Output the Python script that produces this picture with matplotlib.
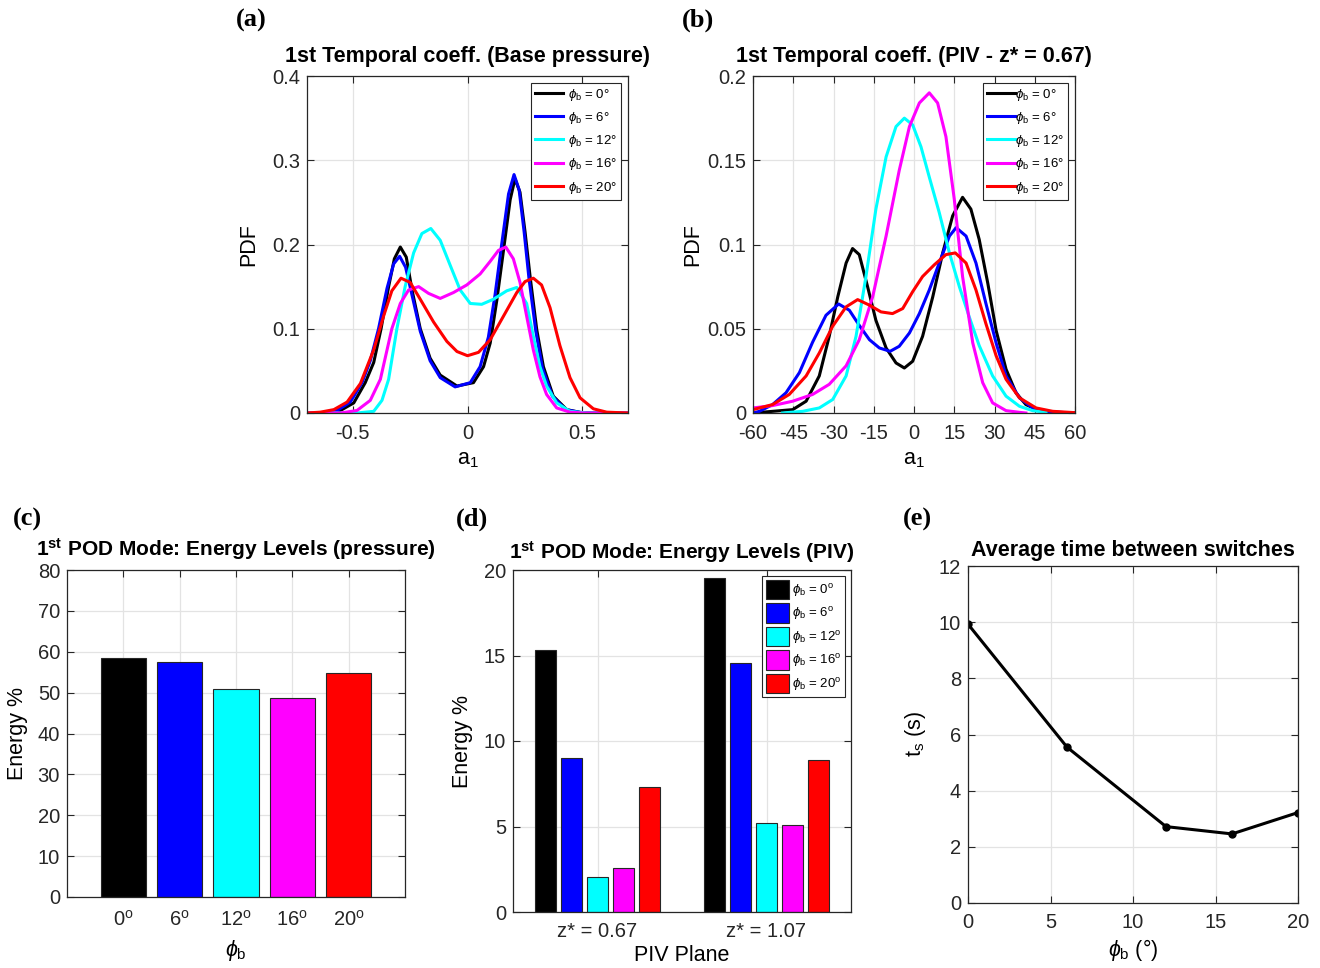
import matplotlib
matplotlib.use("Agg")
import matplotlib.pyplot as plt
import numpy as np

plt.rcParams['font.family'] = ['Liberation Sans', 'DejaVu Sans']
plt.rcParams['mathtext.fontset'] = 'custom'
plt.rcParams['mathtext.rm'] = 'Liberation Sans'
plt.rcParams['mathtext.it'] = 'Liberation Sans:italic'
plt.rcParams['mathtext.bf'] = 'Liberation Sans:bold'
plt.rcParams['axes.unicode_minus'] = False

# ---------------- data ----------------
angles = [0, 6, 12, 16, 20]
colors = ['#000000', '#0000ff', '#00ffff', '#ff00ff', '#ff0000']

# (a) PDF of base-pressure temporal coefficient
a_x0 = [-0.7, -0.612, -0.554, -0.496, -0.446, -0.409, -0.377, -0.344, -0.319, -0.293, -0.267, -0.242,
        -0.206, -0.163, -0.119, -0.046, 0.026, 0.07, 0.099, 0.128, 0.157, 0.186, 0.207, 0.229, 0.251,
        0.273, 0.302, 0.331, 0.374, 0.433, 0.505, 0.7]
a_y0 = [0, 0, 0.003, 0.012, 0.036, 0.06, 0.10, 0.15, 0.183, 0.197, 0.185, 0.146,
        0.10, 0.065, 0.045, 0.032, 0.036, 0.055, 0.083, 0.134, 0.193, 0.253, 0.278, 0.262, 0.215,
        0.162, 0.099, 0.055, 0.02, 0.004, 0, 0]
a_x6 = [-0.7, -0.642, -0.569, -0.511, -0.46, -0.424, -0.388, -0.351, -0.322, -0.296, -0.27, -0.242,
        -0.206, -0.163, -0.119, -0.054, 0.012, 0.055, 0.091, 0.12, 0.149, 0.179, 0.203, 0.225, 0.247,
        0.268, 0.298, 0.327, 0.37, 0.428, 0.505, 0.7]
a_y6 = [0, 0, 0.003, 0.013, 0.036, 0.062, 0.10, 0.148, 0.177, 0.186, 0.173, 0.14,
        0.097, 0.062, 0.042, 0.031, 0.036, 0.055, 0.09, 0.14, 0.2, 0.26, 0.283, 0.265, 0.215,
        0.16, 0.097, 0.053, 0.02, 0.004, 0, 0]
a_x12 = [-0.7, -0.482, -0.409, -0.373, -0.344, -0.308, -0.272, -0.235, -0.199, -0.16, -0.119, -0.075,
         -0.032, 0.012, 0.062, 0.113, 0.171, 0.215, 0.258, 0.287, 0.316, 0.345, 0.389, 0.447, 0.52, 0.7]
a_y12 = [0, 0, 0.002, 0.015, 0.04, 0.10, 0.15, 0.19, 0.213, 0.219, 0.205, 0.175,
         0.146, 0.13, 0.129, 0.135, 0.145, 0.149, 0.13, 0.091, 0.055, 0.032, 0.012, 0.002, 0, 0]
a_x16 = [-0.7, -0.554, -0.482, -0.424, -0.38, -0.33, -0.293, -0.257, -0.213, -0.17, -0.119, -0.061,
         -0.003, 0.055, 0.099, 0.135, 0.167, 0.2, 0.229, 0.258, 0.287, 0.316, 0.345, 0.389, 0.447, 0.505, 0.7]
a_y16 = [0, 0, 0.003, 0.015, 0.04, 0.10, 0.13, 0.146, 0.15, 0.142, 0.136, 0.143,
         0.152, 0.165, 0.18, 0.193, 0.197, 0.183, 0.155, 0.115, 0.075, 0.043, 0.022, 0.006, 0.001, 0, 0]
a_x20 = [-0.7, -0.642, -0.583, -0.525, -0.467, -0.409, -0.366, -0.33, -0.29, -0.25, -0.206, -0.148,
         -0.09, -0.046, 0.0, 0.048, 0.099, 0.157, 0.215, 0.251, 0.287, 0.323, 0.36, 0.403, 0.447, 0.491,
         0.549, 0.607, 0.7]
a_y20 = [0, 0.001, 0.004, 0.013, 0.035, 0.075, 0.115, 0.145, 0.16, 0.155, 0.135, 0.108,
         0.085, 0.073, 0.068, 0.072, 0.087, 0.115, 0.143, 0.156, 0.16, 0.152, 0.125, 0.08, 0.042, 0.018,
         0.005, 0.001, 0]

# (b) PDF of PIV temporal coefficient (z* = 0.67)
b_x0 = [-60, -45.2, -40.2, -35.3, -31.6, -28.4, -25.3, -22.9, -20.4, -17.3, -14.2, -10.4, -6.7, -3.6,
        -0.5, 3.2, 7.0, 10.7, 14.4, 18.1, 21.2, 24.3, 27.5, 30.6, 34.3, 38.0, 41.7, 46.7, 51.7, 60]
b_y0 = [0, 0.002, 0.007, 0.022, 0.0455, 0.069, 0.089, 0.0976, 0.094, 0.075, 0.055, 0.0386, 0.0297, 0.0267,
        0.0307, 0.0455, 0.069, 0.095, 0.117, 0.128, 0.121, 0.103, 0.077, 0.049, 0.026, 0.012, 0.005,
        0.0014, 0.0002, 0]
b_x6 = [-60, -57.6, -52.7, -47.7, -42.7, -37.8, -32.8, -28.1, -24.1, -20.4, -16.6, -12.9, -8.9, -5.5,
        -1.7, 2.0, 5.7, 9.4, 13.2, 15.7, 19.4, 23.1, 26.8, 30.6, 34.3, 39.3, 44.2, 49.2, 56.6, 60]
b_y6 = [0, 0.001, 0.005, 0.012, 0.024, 0.042, 0.058, 0.0647, 0.061, 0.052, 0.0435, 0.0386, 0.0366, 0.0396,
        0.0475, 0.059, 0.073, 0.089, 0.105, 0.110, 0.105, 0.089, 0.065, 0.0416, 0.022, 0.009, 0.003,
        0.001, 0.0002, 0]
b_x12 = [-49, -41.5, -35.3, -30.3, -25.3, -21.6, -17.9, -14.2, -10.4, -6.7, -3.6, -0.5, 2.6, 5.7, 9.4,
         13.2, 16.9, 20.6, 24.3, 29.3, 34.3, 39.3, 44.2, 49.2]
b_y12 = [0, 0.001, 0.003, 0.008, 0.022, 0.0455, 0.081, 0.121, 0.152, 0.17, 0.175, 0.171, 0.158, 0.14,
         0.119, 0.095, 0.075, 0.057, 0.04, 0.022, 0.01, 0.004, 0.0014, 0.0004]
b_x16 = [-60, -52.7, -45.2, -37.8, -31.6, -25.3, -20.4, -15.4, -10.4, -5.5, -1.7, 2.0, 5.7, 8.8, 11.9,
         15.0, 18.1, 21.9, 25.6, 29.3, 34.3, 39.3, 41.7]
b_y16 = [0.003, 0.0044, 0.007, 0.011, 0.017, 0.028, 0.0435, 0.069, 0.105, 0.144, 0.17, 0.184, 0.19,
         0.184, 0.164, 0.127, 0.081, 0.0416, 0.018, 0.006, 0.0014, 0.0004, 0]
b_x20 = [-60, -52.7, -46.5, -40.2, -35.3, -30.3, -25.3, -21.0, -16.6, -12.3, -8.0, -4.2, -0.5, 3.2,
         7.6, 11.9, 15.4, 19.4, 23.1, 26.8, 30.6, 34.3, 39.3, 45.5, 51.7, 60]
b_y20 = [0.002, 0.005, 0.011, 0.022, 0.0356, 0.0515, 0.063, 0.0673, 0.064, 0.06, 0.059, 0.062, 0.072,
         0.081, 0.088, 0.094, 0.095, 0.089, 0.073, 0.053, 0.034, 0.02, 0.009, 0.003, 0.001, 0.0002]

# (c) energy of 1st POD mode (pressure)
c_labels = ['0$^\\mathrm{o}$', '6$^\\mathrm{o}$', '12$^\\mathrm{o}$', '16$^\\mathrm{o}$', '20$^\\mathrm{o}$']
c_energy = [58.4, 57.4, 51.0, 48.6, 54.7]

# (d) energy of 1st POD mode (PIV)
d_planes = ['z* = 0.67', 'z* = 1.07']
d_energy = {0: [15.3, 19.55], 6: [9.0, 14.55], 12: [2.05, 5.18], 16: [2.6, 5.06], 20: [7.3, 8.87]}

# (e) average time between switches
e_phi = [0, 6, 12, 16, 20]
e_ts = [9.93, 5.55, 2.72, 2.46, 3.22]

# ---------------- style helpers ----------------
W, H = 1320, 968
fig = plt.figure(figsize=(W / 100, H / 100), dpi=100)

def px_axes(l, t, r, b):
    return fig.add_axes([l / W, 1 - b / H, (r - l) / W, (b - t) / H])

SPINE = '#262626'
GRID = '#e3e3e3'
FS = 14.5
TFS = 15.5
LFS = 15.5

def style(ax, xpad=8):
    for s in ax.spines.values():
        s.set_color(SPINE)
        s.set_linewidth(0.9)
    ax.tick_params(direction='in', top=True, right=True, length=5, width=0.8,
                   colors=SPINE, labelcolor='#262626', labelsize=FS)
    ax.tick_params(axis='x', pad=xpad)
    ax.tick_params(axis='y', pad=5)
    ax.grid(True, color=GRID, linewidth=0.9)
    ax.set_axisbelow(True)

def panel_label(x, y, s):
    fig.text(x / W, 1 - y / H, s, family='Liberation Serif', weight='bold', fontsize=19,
             ha='left', va='center')

leg_labels = [r'$\phi_\mathrm{b}$ = %d°' % a for a in angles]

# ---------------- (a) ----------------
ax = px_axes(307, 76, 628, 413)
style(ax)
for xs, ys, c, lab in zip([a_x0, a_x6, a_x12, a_x16, a_x20], [a_y0, a_y6, a_y12, a_y16, a_y20], colors, leg_labels):
    ax.plot(xs, ys, color=c, lw=2.2, label=lab, solid_joinstyle='round')
ax.set_xlim(-0.7, 0.7)
ax.set_ylim(0, 0.4)
ax.set_xticks([-0.5, 0, 0.5])
ax.set_xticklabels(['-0.5', '0', '0.5'])
ax.set_yticks([0, 0.1, 0.2, 0.3, 0.4])
ax.set_yticklabels(['0', '0.1', '0.2', '0.3', '0.4'])
ax.set_xlabel(r'a$_1$', fontsize=LFS, labelpad=4)
ax.set_ylabel('PDF', fontsize=LFS)
ax.yaxis.set_label_coords(-0.15, 0.5)
ax.set_title('1st Temporal coeff. (Base pressure)', fontsize=TFS, weight='bold', pad=10)
leg = ax.legend(loc='upper right', fontsize=9.5, frameon=True, fancybox=False, framealpha=1,
                edgecolor=SPINE, handlelength=2.1, labelspacing=0.55, borderaxespad=0.5,
                handletextpad=0.4, borderpad=0.3)
leg.get_frame().set_linewidth(0.8)
panel_label(236, 20, '(a)')

# ---------------- (b) ----------------
ax = px_axes(753, 76, 1075, 413)
style(ax)
for xs, ys, c, lab in zip([b_x0, b_x6, b_x12, b_x16, b_x20], [b_y0, b_y6, b_y12, b_y16, b_y20], colors, leg_labels):
    ax.plot(xs, ys, color=c, lw=2.2, label=lab, solid_joinstyle='round')
ax.set_xlim(-60, 60)
ax.set_ylim(0, 0.2)
ax.set_xticks(np.arange(-60, 61, 15))
ax.set_yticks([0, 0.05, 0.1, 0.15, 0.2])
ax.set_yticklabels(['0', '0.05', '0.1', '0.15', '0.2'])
ax.set_xlabel(r'a$_1$', fontsize=LFS, labelpad=4)
ax.set_ylabel('PDF', fontsize=LFS)
ax.yaxis.set_label_coords(-0.155, 0.5)
ax.set_title('1st Temporal coeff. (PIV - z* = 0.67)', fontsize=TFS, weight='bold', pad=10)
leg = ax.legend(loc='upper right', fontsize=9.5, frameon=True, fancybox=False, framealpha=1,
                edgecolor=SPINE, handlelength=2.1, labelspacing=0.55, borderaxespad=0.5,
                handletextpad=0.05, borderpad=0.3)
leg.get_frame().set_linewidth(0.8)
panel_label(682, 20, '(b)')

# ---------------- (c) ----------------
ax = px_axes(67, 570, 405, 897)
style(ax, xpad=9)
xc = np.arange(1, len(c_energy) + 1)
ax.bar(xc, c_energy, width=0.8, color=colors, edgecolor='#262626', linewidth=0.8)
ax.set_xlim(0, 6)
ax.set_ylim(0, 80)
ax.set_xticks(xc)
ax.set_xticklabels(c_labels)
ax.set_yticks(np.arange(0, 81, 10))
ax.set_xlabel(r'$\phi_\mathrm{b}$', fontsize=LFS, labelpad=6)
ax.set_ylabel('Energy %', fontsize=LFS)
ax.yaxis.set_label_coords(-0.115, 0.5)
ax.set_title(r'1$^{\mathbf{st}}$ POD Mode: Energy Levels (pressure)', fontsize=15, weight='bold', pad=10)
panel_label(13, 519, '(c)')

# ---------------- (d) ----------------
ax = px_axes(513, 570, 851, 912)
style(ax, xpad=7)
xd = np.arange(1, len(d_planes) + 1)
offs = np.array([-2, -1, 0, 1, 2]) * 0.154
for k, (a, c) in enumerate(zip(angles, colors)):
    ax.bar(xd + offs[k], d_energy[a], width=0.124, color=c, edgecolor='#262626', linewidth=0.8,
           label=r'$\phi_\mathrm{b}$ = %d$^\mathrm{o}$' % a)
ax.set_xlim(0.5, 2.5)
ax.set_ylim(0, 20)
ax.set_xticks(xd)
ax.set_xticklabels(d_planes)
ax.set_yticks([0, 5, 10, 15, 20])
ax.set_xlabel('PIV Plane', fontsize=LFS, labelpad=3)
ax.set_ylabel('Energy %', fontsize=LFS)
ax.yaxis.set_label_coords(-0.118, 0.5)
ax.set_title(r'1$^{\mathbf{st}}$ POD Mode: Energy Levels (PIV)', fontsize=15, weight='bold', pad=8)
leg = ax.legend(loc='upper right', fontsize=9.5, frameon=True, fancybox=False, framealpha=1,
                edgecolor=SPINE, handlelength=1.75, handleheight=1.9, labelspacing=0.3,
                borderaxespad=0.45, handletextpad=0.2, borderpad=0.3)
leg.get_frame().set_linewidth(0.8)
panel_label(456, 519, '(d)')

# ---------------- (e) ----------------
ax = px_axes(968, 566, 1298, 903)
style(ax, xpad=7)
ax.plot(e_phi, e_ts, color='black', lw=2.2, marker='o', markersize=5)
ax.set_xlim(0, 20)
ax.set_ylim(0, 12)
ax.set_xticks([0, 5, 10, 15, 20])
ax.set_yticks(np.arange(0, 13, 2))
ax.set_xlabel(r'$\phi_\mathrm{b}$ (°)', fontsize=LFS, labelpad=4)
ax.set_ylabel(r't$_\mathrm{s}$ (s)', fontsize=LFS)
ax.yaxis.set_label_coords(-0.121, 0.5)
ax.set_title('Average time between switches', fontsize=TFS, weight='bold', pad=7)
panel_label(903, 519, '(e)')

fig.savefig('out.png', dpi=100)
